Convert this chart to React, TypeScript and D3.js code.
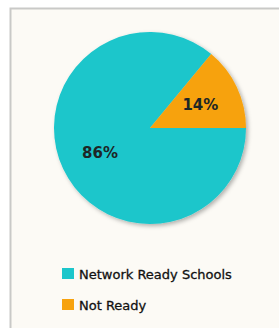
import { useEffect, useRef } from 'react'
import * as d3 from 'd3'

const categories = ['Network Ready Schools', 'Not Ready']
const values = [86, 14]
const labels = ['86%', '14%']
const colors = ['#1cc6cb', '#f7a20e']

const width = 279
const height = 328

export default function App() {
  const svgRef = useRef<SVGSVGElement>(null)

  useEffect(() => {
    if (!svgRef.current) return
    const svg = d3.select(svgRef.current)
    svg.selectAll('*').remove()

    // panel background + border
    svg.append('rect')
      .attr('width', width)
      .attr('height', height)
      .attr('fill', '#ffffff')
    svg.append('rect')
      .attr('x', 10.5)
      .attr('y', 8.5)
      .attr('width', width + 20)
      .attr('height', height + 20)
      .attr('fill', '#fcfaf5')
      .attr('stroke', '#c9c9c7')
      .attr('stroke-width', 2)

    const defs = svg.append('defs')
    const shadow = defs.append('filter')
      .attr('id', 'pie-shadow')
      .attr('x', '-20%').attr('y', '-20%')
      .attr('width', '140%').attr('height', '140%')
    shadow.append('feDropShadow')
      .attr('dx', 2).attr('dy', 2)
      .attr('stdDeviation', 2)
      .attr('flood-color', '#000')
      .attr('flood-opacity', 0.3)

    const cx = 150
    const cy = 128
    const radius = 96

    const pie = d3.pie<number>()
      .sort(null)
      .startAngle(Math.PI / 2)
      .endAngle(Math.PI / 2 + 2 * Math.PI)
    const arcs = pie(values)

    const arc = d3.arc<d3.PieArcDatum<number>>()
      .innerRadius(0)
      .outerRadius(radius)

    const g = svg.append('g').attr('transform', `translate(${cx},${cy})`)

    g.append('g')
      .attr('filter', 'url(#pie-shadow)')
      .selectAll('path')
      .data(arcs)
      .enter()
      .append('path')
      .attr('d', arc)
      .attr('fill', (_, i) => colors[i])

    // labels
    const labelArc = d3.arc<d3.PieArcDatum<number>>()
      .innerRadius(radius * 0.58)
      .outerRadius(radius * 0.58)
    const labelPos = [
      (d: d3.PieArcDatum<number>) => [-50, 25],
      (d: d3.PieArcDatum<number>) => labelArc.centroid(d)
    ]
    g.selectAll('.label')
      .data(arcs)
      .enter()
      .append('text')
      .attr('class', 'label')
      .attr('x', (d, i) => labelPos[i](d)[0])
      .attr('y', (d, i) => labelPos[i](d)[1])
      .attr('dy', '0.35em')
      .attr('text-anchor', 'middle')
      .style('font-family', '"DejaVu Sans", Verdana, sans-serif')
      .style('font-weight', 'bold')
      .style('font-size', '15px')
      .style('fill', '#1d2626')
      .text((_, i) => labels[i])

    // legend
    const legend = svg.append('g').attr('transform', 'translate(62,268)')
    const rows = legend.selectAll('g')
      .data(categories)
      .enter()
      .append('g')
      .attr('transform', (_, i) => `translate(0,${i * 31})`)
    rows.append('rect')
      .attr('width', 12)
      .attr('height', 11)
      .attr('fill', (_, i) => colors[i])
    rows.append('text')
      .attr('x', 17)
      .attr('y', 6)
      .attr('dy', '0.35em')
      .style('font-family', '"DejaVu Sans", Verdana, sans-serif')
      .style('font-size', '13px')
      .style('fill', '#111')
      .style('stroke', '#111')
      .style('stroke-width', 0.3)
      .text(d => d)
  }, [])

  return (
    <svg
      ref={svgRef}
      width={width}
      height={height}
      style={{ position: 'absolute', left: 0, top: 0 }}
    />
  )
}
